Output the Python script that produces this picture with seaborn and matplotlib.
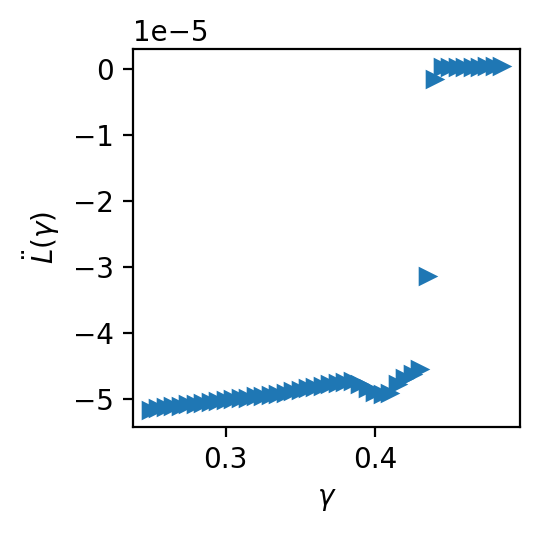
import numpy as np
import matplotlib
matplotlib.use('Agg')
from matplotlib import pyplot as plt

import seaborn as sns

gamma = [0.250, 0.255, 0.260, 0.265, 0.270, 0.275, 0.280, 0.285, 0.290, 0.295,
         0.300, 0.305, 0.310, 0.315, 0.320, 0.325, 0.330, 0.335, 0.340, 0.345,
         0.350, 0.355, 0.360, 0.365, 0.370, 0.375, 0.380, 0.385, 0.390, 0.395,
         0.400, 0.405, 0.410, 0.415, 0.420, 0.425, 0.430, 0.435, 0.440, 0.445,
         0.450, 0.455, 0.460, 0.465, 0.470, 0.475, 0.480, 0.485]

# second derivative, in units of 1e-5
L_dd = [-5.16, -5.14, -5.12, -5.11, -5.10, -5.08, -5.07, -5.06, -5.04, -5.03,
        -5.02, -5.00, -4.99, -4.98, -4.96, -4.95, -4.94, -4.92, -4.91, -4.88,
        -4.86, -4.84, -4.82, -4.80, -4.78, -4.76, -4.74, -4.73, -4.78, -4.84,
        -4.89, -4.93, -4.91, -4.78, -4.69, -4.62, -4.55, -3.13, -0.16, 0.03,
        0.03, 0.03, 0.03, 0.03, 0.03, 0.04, 0.04, 0.04]

fig, ax = plt.subplots(figsize=(2.7, 2.67), dpi=200)
fig.subplots_adjust(left=0.247, right=0.963, bottom=0.201, top=0.908)

sns.scatterplot(x=gamma, y=np.array(L_dd) * 1e-5, marker='>', s=50,
                color='C0', linewidth=0, ax=ax)

ax.set_xlabel(r'$\gamma$')
ax.set_ylabel(r'$\ddot{L}(\gamma)$')

plt.savefig('out.png', dpi=200)
